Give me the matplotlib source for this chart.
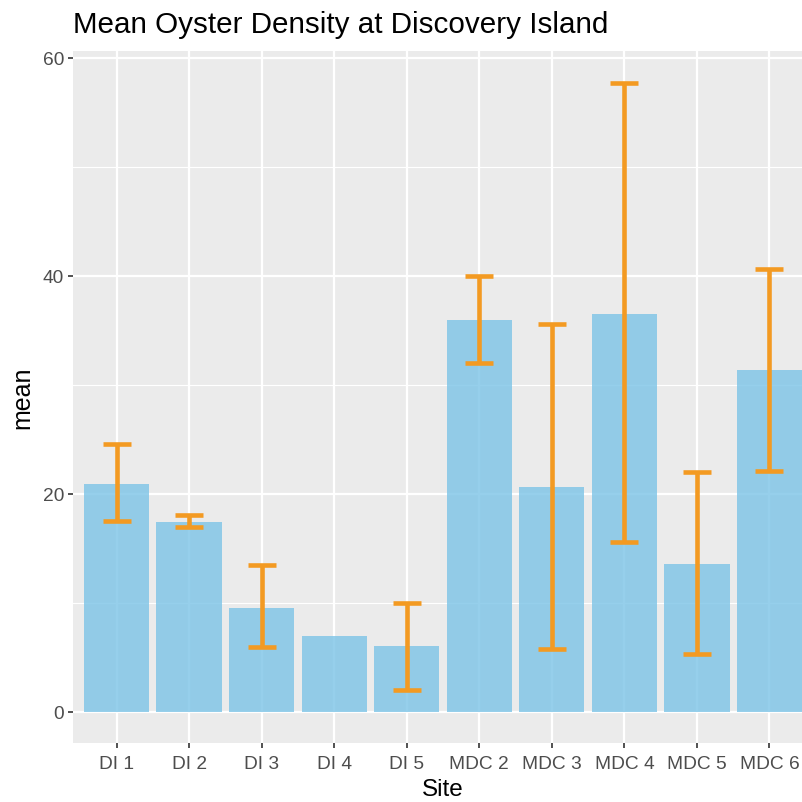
import numpy as np
import matplotlib.pyplot as plt

# site means and error bar limits
sites = ['DI 1', 'DI 2', 'DI 3', 'DI 4', 'DI 5',
         'MDC 2', 'MDC 3', 'MDC 4', 'MDC 5', 'MDC 6']
means = [20.9, 17.4, 9.5, 6.9, 6.0, 35.9, 20.6, 36.5, 13.5, 31.3]
upper = [24.5, 18.0, 13.4, np.nan, 10.0, 40.0, 35.6, 57.7, 22.0, 40.6]
lower = [17.5, 16.9, 5.9, np.nan, 2.0, 32.0, 5.7, 15.6, 5.3, 22.1]

plt.rcParams['font.family'] = ['Liberation Sans', 'DejaVu Sans']

fig = plt.figure(figsize=(8.03, 8.03), dpi=100)
ax = fig.add_axes([73 / 803, 59 / 803, 740 / 803, 692 / 803])
ax.set_facecolor('#EBEBEB')

x = np.arange(1, len(sites) + 1)
m = np.array(means)
up = np.array(upper)
lo = np.array(lower)

# grid (ggplot2 theme_grey look)
for v in [10, 30, 50]:
    ax.axhline(v, color='white', lw=0.8, zorder=0)
for v in [0, 20, 40, 60]:
    ax.axhline(v, color='white', lw=1.6, zorder=0)
for v in x:
    ax.axvline(v, color='white', lw=1.6, zorder=0)

ax.bar(x, m, width=0.9, color='#7CC4E7', alpha=0.8, zorder=1)
ax.errorbar(x, m, yerr=[m - lo, up - m], fmt='none', ecolor='#F39A22',
            elinewidth=3.3, capsize=10.4, capthick=3.3, zorder=2)

ax.set_xlim(0.4, 10.6)
ax.set_ylim(-2.885, 60.6)
ax.set_xticks(x)
ax.set_xticklabels(sites)
ax.set_yticks([0, 20, 40, 60])
for s in ax.spines.values():
    s.set_visible(False)
ax.tick_params(axis='both', length=3.5, width=1.2, color='#333333',
               labelcolor='#4D4D4D', labelsize=13.8, pad=3)
ax.tick_params(axis='x', pad=5.5)

ax.set_xlabel('Site', fontsize=17.5, labelpad=4)
ax.set_ylabel('mean', fontsize=18, labelpad=6)
fig.text(73 / 803, 1 - 33 / 803, 'Mean Oyster Density at Discovery Island',
         fontsize=21.3, ha='left', va='baseline')

fig.savefig('out.png', dpi=100)
